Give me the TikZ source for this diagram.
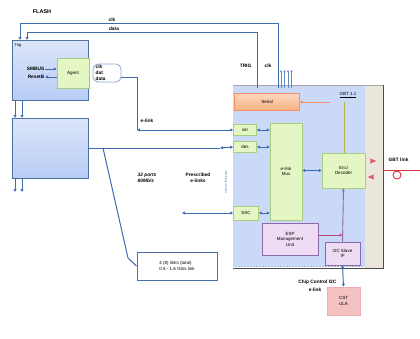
\documentclass[tikz,border=0pt]{standalone}
\usepackage{fontspec}
\setmainfont{Liberation Sans}
\usetikzlibrary{arrows.meta,calc,shapes.geometric}
\definecolor{bl}{HTML}{3D6DB0}
\definecolor{boxbl}{HTML}{B8CCF4}
\definecolor{grf}{HTML}{E4F6C4}
\definecolor{grd}{HTML}{A8CC80}
\definecolor{pkf}{HTML}{EEDCF4}
\definecolor{pkd}{HTML}{8A6AA8}
\definecolor{orf}{HTML}{F8B080}
\definecolor{cst}{HTML}{F4C2C2}
\definecolor{rd}{HTML}{D83040}
\definecolor{strip}{HTML}{EAE6DC}
\begin{document}
\begin{tikzpicture}[x=1pt,y=-1pt,
  txt/.style={font=\fontsize{4.8}{5.5}\selectfont\bfseries,inner sep=0.5pt,align=center},
  bbox/.style={draw=bl!70!gray,top color=boxbl!50,bottom color=boxbl,inner sep=0pt},
  gbox/.style={draw=grd,fill=grf,inner sep=0pt,font=\fontsize{4.5}{5}\selectfont,align=center},
  pbox/.style={draw=pkd,fill=pkf,line width=0.7pt,inner sep=0pt,font=\fontsize{4.5}{5.5}\selectfont,align=center},
  bline/.style={draw=bl,line width=1pt},
  barr/.style={bline,{Latex[length=3pt,width=3.5pt]}-{Latex[length=3pt,width=3.5pt]}},
  sarr/.style={bline,-{Latex[length=3pt,width=3.5pt]}}]
\useasboundingbox (0,0) rectangle (420,338);
% labels top
\node[txt,font=\fontsize{5.5}{6}\selectfont\bfseries] (flash) at (42,12) {FLASH};
% left boxes
\node[bbox,minimum width=76pt,minimum height=60pt] (fp1) at (50,70) {};
\node[txt,font=\fontsize{4}{5}\selectfont,anchor=north west] (fp1l) at ([shift={(2pt,-3pt)}]fp1.north west) {Trig};
\node[gbox,minimum width=32pt,minimum height=30pt] (agent) at (73,73) {Agent};
\node[txt,anchor=east] (smb) at (45,69) {SMBUS};
\node[txt,anchor=east] (rst) at (45,77) {ResetB};
\draw[sarr] (smb.east) -- (smb.east -| agent.west);
\draw[sarr] (rst.east -| agent.west) -- (rst.east);
\node[bbox,minimum width=76pt,minimum height=60pt] (fp2) at (50,148) {};
% cable
\draw[bl!60,line width=0.8pt,fill=white,rounded corners=5pt] (93,64) rectangle (121,82);
\node[txt,anchor=west] (clkA) at (95,67) {clk};
\node[txt,anchor=west] (datA) at (95,73) {dat};
\node[txt,anchor=west] (datB) at (95,79) {data};
\coordinate (ca) at (121,77);
% vertical arrows between fpga boxes
\foreach \x in {15,22}{
  \draw[sarr] (\x,100) -- (\x,118);
  \draw[sarr] (\x,178) -- (\x,192);
}
% top long lines
\node[txt] (clkT) at (112,20) {clk};
\node[txt] (datT) at (114,28.5) {data};
\coordinate (tA) at (278,23);
\coordinate (tB) at (257,32);
% chip
\fill[boxbl!75] (233,85) rectangle (365,266);
\fill[strip] (365,85) rectangle (383,268);
\draw[black!35,line width=0.5pt] (233,85) -- (383,85);
\draw[black!70,line width=0.8pt] (383,85) -- (383,268) -- (233,268);
\draw[bl!50,line width=0.5pt,densely dotted] (233,266) -- (365,266);
\node[inner sep=0pt,minimum width=150pt,minimum height=183pt] (chip) at (308,176.5) {};
\draw[sarr] (tA) -- (278,23) -| (20,40);
\draw[sarr] (tB) -- (257,32) -| (27,40);
\draw[bline] (tA) -- (278,88);
\draw[bline] (tB) -- (257,88);
\node[txt,anchor=east] (trig) at (252,66) {TRIG};
\node[txt] (clkC) at (268,66) {clk};
\foreach \x in {281,284.5,288,291.5}{
  \draw[bl!80,line width=0.9pt,-{Latex[length=2pt,width=2.5pt]}] (\x,88) -- (\x,70);
}
% orange
\node[draw=orf!80!red,top color=orf!50,bottom color=orf,minimum width=65pt,minimum height=17pt,inner sep=0pt,font=\fontsize{4.5}{5}\selectfont] (ser0) at (267,102) {Serial};
\draw[orf!80!red,line width=0.8pt,{Latex[length=3pt,width=3pt]}-] (ser0.east) -- (330,102);
\node[txt,font=\fontsize{4.5}{5}\selectfont] (ver) at (348,95) {\underline{GBT 1.1}};
% small green boxes
\node[gbox,minimum width=23pt,minimum height=11pt] (sr) at (245,130) {ser};
\node[gbox,minimum width=23pt,minimum height=11pt] (ds) at (245,147) {des};
\node[gbox,minimum width=25pt,minimum height=14pt] (ssc) at (246,213) {SSC};
\node[gbox,minimum width=32pt,minimum height=97pt] (mux) at (286,171.5) {e-link\\Mux};
\node[gbox,minimum width=43pt,minimum height=35pt] (enc) at (343.5,170.5) {Enc/\\Decoder};
\node[pbox,minimum width=56pt,minimum height=32pt] (mgmt) at (290,239) {ESP\\Management\\Unit};
\node[pbox,minimum width=35pt,minimum height=23pt] (ctl) at (342.5,253.5) {I2C Slave\\IF};
\node[draw=rd!40,fill=cst,minimum width=33pt,minimum height=28pt,inner sep=0pt,font=\fontsize{4.5}{6}\selectfont,align=center] (cstb) at (343.5,301) {CST\\ULA};
% connections inside chip
\draw[yellow!70!black,line width=0.7pt] (344,102) -- (enc.north -| 344,0);
\draw[barr] (sr.east) -- (sr.east -| mux.west);
\draw[barr] (ds.east) -- (ds.east -| mux.west);
\draw[barr] (ssc.east) -- (ssc.east -| mux.west);
\draw[barr] (mux.east |- enc.west) -- (enc.west);
\draw[pkd,line width=0.9pt,-{Latex[length=3pt,width=3pt]}] (ctl.north) -- (enc.south);
\draw[rd!60!pkd,line width=0.9pt,-{Latex[length=3pt,width=3pt]}] (mgmt.east |- 0,235) -- (342.5,235);
\draw[barr] (ctl.south) -- (cstb.north);
\node[txt,anchor=east] (ctrlbl) at (337,282) {Chip Control I2C};
\node[txt,anchor=east] (ctrlb2) at (322,290) {e-link};
% left connections
\coordinate (cdrop) at (137,77);
\draw[bline] (ca) -- (cdrop) -- (137,130);
\draw[barr] (137,130) -- (sr.west);
\node[txt,anchor=west] (elk) at (140,121) {e-link};
\draw[bline] (fp2.east |- 0,148) -- (220,148);
\draw[barr] (220,148) -- (ds.west);
\coordinate (sscin) at (182,213);
\draw[barr] (sscin) -- (ssc.west);
\node[txt,font=\fontsize{4.8}{5.5}\selectfont\bfseries\itshape,align=left] (p32) at (147,178) {32 ports\\80Mb/s};
\node[txt,align=center] (pre) at (198,178) {Prescribed\\e-links};
\node[rotate=90,font=\fontsize{3}{3.5}\selectfont,text=bl] (vtxt) at (226,182) {serial e-link ports};
% text box
\node[draw=bl!80!gray,line width=1pt,fill=white,minimum width=80pt,minimum height=28pt,inner sep=1pt,font=\fontsize{4.5}{6}\selectfont,align=left] (tb) at (177,266) {4 (8) links (total)\\0.5 - 1.6 Gb/s link};
\draw[bline] (103,148) -- (128,258) -- (tb.west);
% right side GBT link
\node[isosceles triangle,fill=rd!80,minimum width=5pt,minimum height=5pt,inner sep=0pt] (tr1) at (372,161) {};
\node[isosceles triangle,shape border rotate=180,fill=rd!80,minimum width=5pt,minimum height=5pt,inner sep=0pt] (tr2) at (372,177) {};
\node[txt,anchor=west] (gbtl) at (388,160) {GBT link};
\draw[rd,line width=0.9pt] (383,170) -- (420,170);
\draw[rd,line width=0.9pt] (397,175) circle (4pt);
\end{tikzpicture}
\end{document}
